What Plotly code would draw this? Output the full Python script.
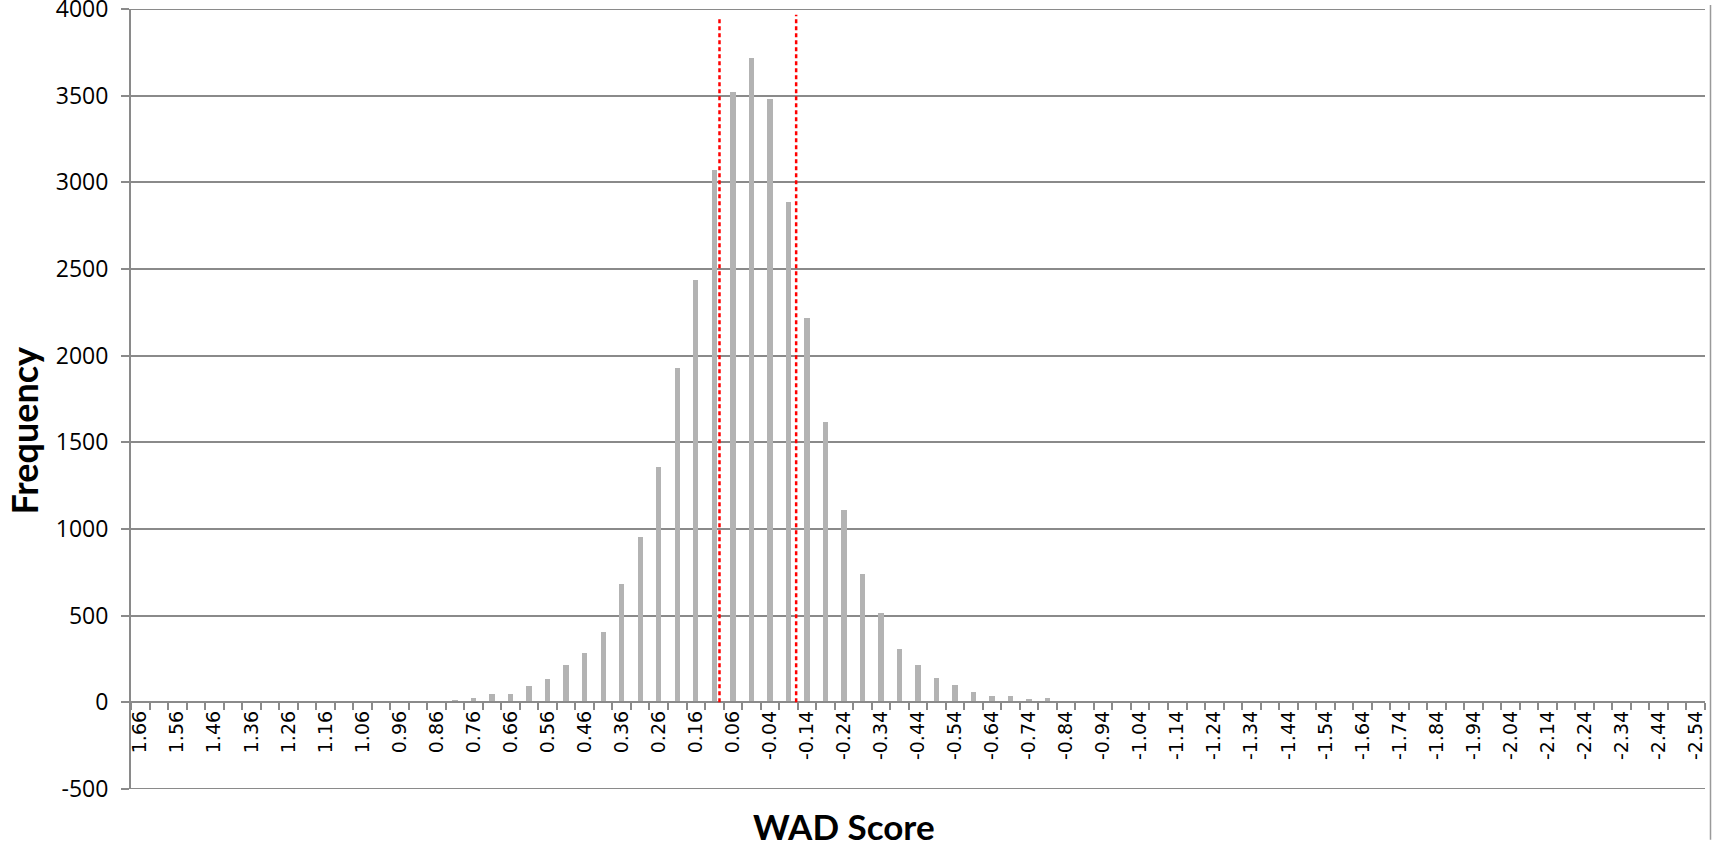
import plotly.graph_objects as go

# WAD score bins (bin centres, high to low) and counts per bin
wad_bins = [
    1.66, 1.61, 1.56, 1.51, 1.46, 1.41, 1.36, 1.31, 1.26, 1.21,
    1.16, 1.11, 1.06, 1.01, 0.96, 0.91, 0.86, 0.81, 0.76, 0.71,
    0.66, 0.61, 0.56, 0.51, 0.46, 0.41, 0.36, 0.31, 0.26, 0.21,
    0.16, 0.11, 0.06, 0.01, -0.04, -0.09, -0.14, -0.19, -0.24, -0.29,
    -0.34, -0.39, -0.44, -0.49, -0.54, -0.59, -0.64, -0.69, -0.74, -0.79,
    -0.84, -0.89, -0.94, -0.99, -1.04, -1.09, -1.14, -1.19, -1.24, -1.29,
    -1.34, -1.39, -1.44, -1.49, -1.54, -1.59, -1.64, -1.69, -1.74, -1.79,
    -1.84, -1.89, -1.94, -1.99, -2.04, -2.09, -2.14, -2.19, -2.24, -2.29,
    -2.34, -2.39, -2.44, -2.49, -2.54,
]
frequency = [
    0, 0, 0, 0, 0, 0, 0, 0, 0, 0,
    0, 0, 0, 0, 0, 7, 8, 15, 25, 46,
    46, 96, 134, 215, 287, 404, 681, 956, 1358, 1931,
    2437, 3072, 3522, 3717, 3480, 2888, 2216, 1616, 1112, 741,
    514, 306, 213, 138, 101, 61, 38, 35, 20, 24,
    8, 3, 2, 0, 0, 0, 0, 0, 0, 0,
    0, 0, 0, 0, 0, 0, 0, 0, 0, 0,
    0, 0, 0, 0, 0, 0, 0, 0, 0, 0,
    0, 0, 0, 0, 0,
]
# every other bin gets a label
label_bins = wad_bins[::2]
label_text = [f"{v:.2f}" for v in label_bins]
# bin edges for the small tick marks
bin_edges = [round(v + 0.025, 3) for v in wad_bins] + [round(wad_bins[-1] - 0.025, 3)]

y_ticks = [-500, 0, 500, 1000, 1500, 2000, 2500, 3000, 3500, 4000]
y_text = [str(v) for v in y_ticks]

# cut-off markers (dashed red)
cutoffs = [0.096, -0.111]
cutoff_tops = [3950, 3968]

grid = "#8a8a8a"

fig = go.Figure(
    go.Bar(
        x=wad_bins,
        y=frequency,
        width=0.0145,
        marker=dict(color="#b3b3b3", line=dict(width=0)),
    )
)

# plotly drops the gridlines on the plot edges, draw those two by hand
for yv in (y_ticks[0], y_ticks[-1]):
    fig.add_shape(
        type="line", xref="paper", yref="y",
        x0=0, x1=1, y0=yv, y1=yv,
        line=dict(color=grid, width=2), layer="below",
    )

for xc, top in zip(cutoffs, cutoff_tops):
    fig.add_shape(
        type="line", xref="x", yref="y",
        x0=xc, x1=xc, y0=0, y1=top,
        line=dict(color="#ff0000", width=2.5, dash="4px,3px"),
    )

# outer frame line on the right edge
fig.add_shape(
    type="line", xref="paper", yref="paper",
    x0=1.0035, x1=1.0035, y0=-0.065, y1=1.005,
    line=dict(color="#9a9a9a", width=1.5),
)

fig.add_annotation(
    text="<b>Frequency</b>", textangle=-90,
    xref="paper", yref="paper", x=-0.083, y=0.46,
    xanchor="left", yanchor="middle", showarrow=False,
    font=dict(family="Lato", size=36, color="black"),
)
fig.add_annotation(
    text="<b>WAD Score</b>",
    xref="paper", yref="paper", x=0.453, y=-0.0775,
    xanchor="center", yanchor="bottom", showarrow=False,
    font=dict(family="Lato", size=35, color="black"),
)

fig.update_layout(
    width=1712,
    height=847,
    margin=dict(l=131, r=7, t=9, b=58),
    plot_bgcolor="white",
    paper_bgcolor="white",
    showlegend=False,
    bargap=0,
    xaxis=dict(
        range=[1.685, -2.565],
        anchor="free",
        position=500 / 4500,
        automargin=False,
        showgrid=False,
        zeroline=False,
        showline=True,
        linecolor=grid,
        linewidth=2,
        tickmode="array",
        tickvals=label_bins,
        ticktext=label_text,
        ticks="",
        tickangle=-90,
        ticklabeloverflow="allow",
        tickfont=dict(family="DejaVu Sans", size=19, color="black"),
        minor=dict(
            tickvals=bin_edges,
            ticks="outside",
            ticklen=7,
            tickwidth=2,
            tickcolor=grid,
            showgrid=False,
        ),
    ),
    yaxis=dict(
        range=[-500.5, 4000.5],
        tickmode="array",
        tickvals=y_ticks,
        ticktext=y_text,
        automargin=False,
        showgrid=True,
        gridcolor=grid,
        gridwidth=2,
        zeroline=False,
        showline=True,
        linecolor=grid,
        linewidth=2,
        ticks="outside",
        ticklen=8,
        tickwidth=2,
        tickcolor=grid,
        ticklabelstandoff=8,
        ticklabeloverflow="allow",
        tickfont=dict(family="Open Sans", size=23, color="black"),
    ),
)

# the page body has an 8px default margin; drop it so the figure sits at 0,0
fig.write_html(
    "out.html",
    config={"displayModeBar": False},
    post_script="document.body.style.margin = '0px';",
)
